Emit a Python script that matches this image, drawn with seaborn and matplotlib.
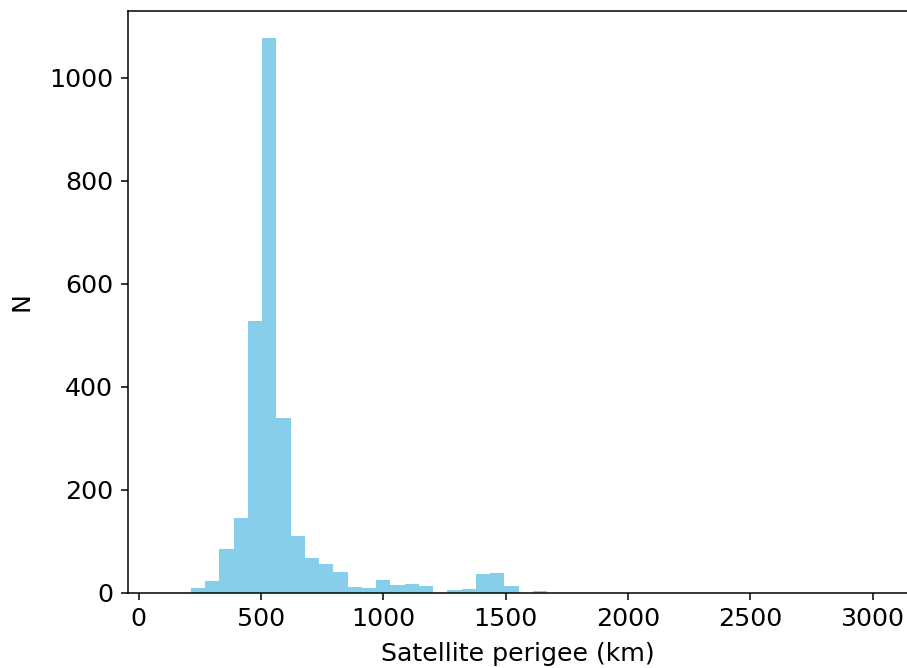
import numpy as np
import pandas as pd
import matplotlib
matplotlib.use("Agg")
import matplotlib.pyplot as plt
import seaborn as sns

# Histogram bin edges (km) and counts
bin_start = 214.5
bin_width = 58.2
counts = [8, 22, 84, 145, 527, 1077, 340, 110, 68, 55, 39, 10, 8, 25, 14, 16, 12,
          0, 4, 6, 35, 37, 13, 0, 3]
x_label = "Satellite perigee (km)"
y_label = "N"
x_ticks = [0, 500, 1000, 1500, 2000, 2500, 3000]
y_ticks = [0, 200, 400, 600, 800, 1000]

edges = [bin_start + i * bin_width for i in range(len(counts) + 1)]
centers = [(edges[i] + edges[i + 1]) / 2 for i in range(len(counts))]
df = pd.DataFrame({"perigee": centers, "n": counts})

plt.rcParams["font.family"] = ["DejaVu Sans"]
fig = plt.figure(figsize=(9.07, 6.68), dpi=100)
ax = fig.add_axes([127.5 / 907, (668 - 592.5) / 668, (909 - 127.5) / 907, (592.5 - 10.5) / 668])

sns.histplot(data=df, x="perigee", weights="n", bins=edges, color="skyblue",
             alpha=1.0, linewidth=0, edgecolor="none", ax=ax)

ax.set_xlim(-45, 3149)
ax.set_ylim(0, 1131)
ax.set_xticks(x_ticks)
ax.set_yticks(y_ticks)
ax.set_xlabel(x_label, fontsize=18.2, labelpad=7.5)
ax.set_ylabel(y_label, fontsize=18.2, labelpad=11)
ax.tick_params(labelsize=18.2, length=5, width=1.1, pad=5.5, color="black")
for s in ax.spines.values():
    s.set_linewidth(1.1)
    s.set_color("black")

fig.savefig("out.png", dpi=100)
